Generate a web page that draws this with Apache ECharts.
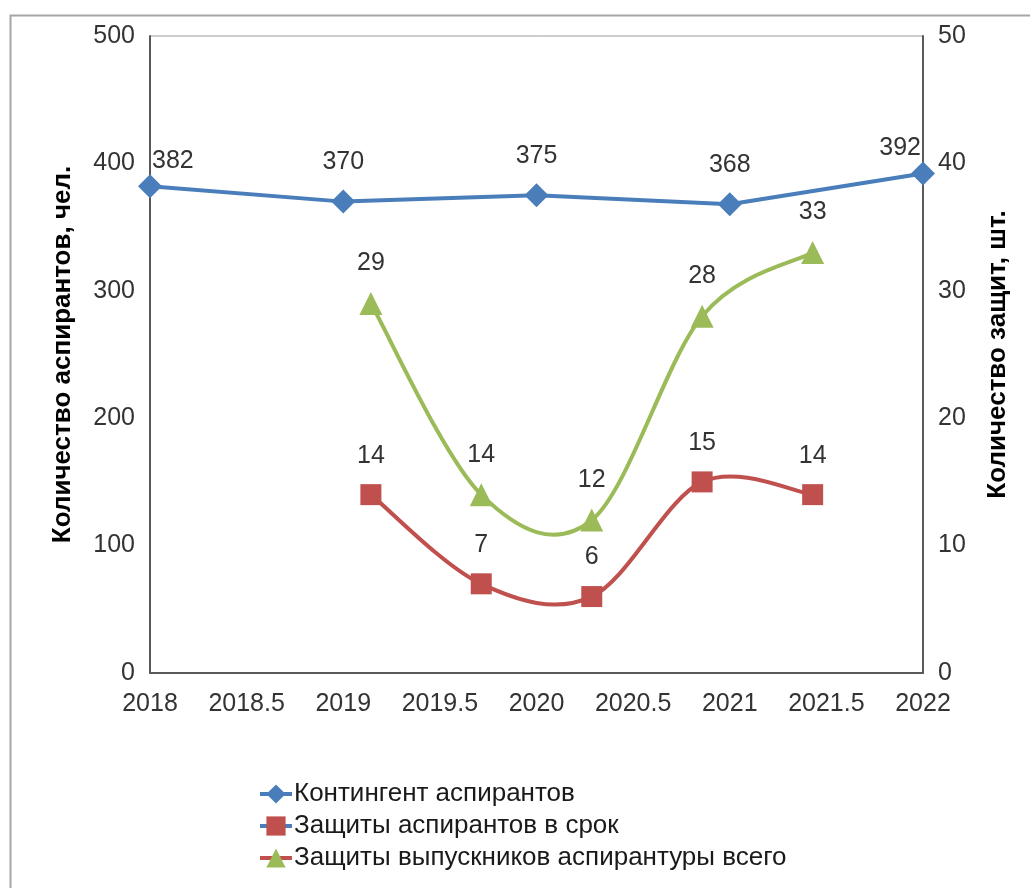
<!DOCTYPE html>
<html>
<head>
<meta charset="utf-8">
<script src="https://cdn.jsdelivr.net/npm/echarts@6/dist/echarts.min.js"></script>
<style>
html,body{margin:0;padding:0;background:#fff;}
#main{width:1030px;height:888px;}
</style>
</head>
<body>
<div id="main"></div>
<script>
// Data
var seriesNames = ['Контингент аспирантов', 'Защиты аспирантов в срок', 'Защиты выпускников аспирантуры всего'];
var contingentX = [2018, 2019, 2020, 2021, 2022];
var contingentY = [382, 370, 375, 368, 392];
var defenseX = [2019.143, 2019.714, 2020.286, 2020.857, 2021.429];
var onTimeY = [14, 7, 6, 15, 14];
var totalY = [29, 14, 12, 28, 33];
var leftTicks = { min: 0, max: 500, interval: 100 };
var rightTicks = { min: 0, max: 50, interval: 10 };
var xTicks = { min: 2018, max: 2022, interval: 0.5 };

function pairs(xs, ys) { return xs.map(function (x, i) { return [x, ys[i]]; }); }

var BLUE = '#4A7EBB', RED = '#C0504D', GREEN = '#9BBB59';
var FONT = 'Liberation Sans, Arial, sans-serif';
var GRID = { left: 150, right: 107, top: 36, bottom: 215 };
var LABEL_COLOR = '#333';

// Smooth curve (Excel-like Catmull-Rom) drawn through axis coordinates
function smoothRenderer(xs, ys, color) {
  return function (params, api) {
    var i = params.dataIndex, n = xs.length;
    if (i >= n - 1) return { type: 'group', children: [] };
    function P(k) { k = Math.max(0, Math.min(n - 1, k)); return api.coord([xs[k], ys[k]]); }
    var p0 = P(i - 1), p1 = P(i), p2 = P(i + 1), p3 = P(i + 2);
    var t = 1 / 6;
    return {
      type: 'bezierCurve',
      shape: {
        x1: p1[0], y1: p1[1], x2: p2[0], y2: p2[1],
        cpx1: p1[0] + (p2[0] - p0[0]) * t, cpy1: p1[1] + (p2[1] - p0[1]) * t,
        cpx2: p2[0] - (p3[0] - p1[0]) * t, cpy2: p2[1] - (p3[1] - p1[1]) * t
      },
      style: { fill: null, stroke: color, lineWidth: 4, lineCap: 'round' },
      silent: true
    };
  };
}

var labelBase = { show: true, position: 'top', fontSize: 25, color: LABEL_COLOR, fontFamily: FONT,
  formatter: function (p) { return p.value[1]; } };

var chart = echarts.init(document.getElementById('main'));
var option = {
  backgroundColor: '#fff',
  animation: false,
  textStyle: { fontFamily: FONT },
  graphic: [{
    type: 'rect', silent: true, z: -1,
    shape: { x: 10.5, y: 15.5, width: 1100, height: 1000 },
    style: { fill: 'none', stroke: '#a6a6a6', lineWidth: 2 }
  }],
  grid: {
    left: GRID.left, right: GRID.right, top: GRID.top, bottom: GRID.bottom,
    show: true, borderColor: '#9a9a9a', borderWidth: 1, backgroundColor: 'transparent'
  },
  legend: {
    orient: 'vertical', left: 258, top: 781, itemGap: 6, padding: 0,
    itemWidth: 32, itemHeight: 24,
    textStyle: { fontFamily: FONT, fontSize: 26, color: '#1a1a1a', padding: [0, 0, 0, -3] },
    data: [
      { name: seriesNames[0], itemStyle: { color: BLUE }, lineStyle: { color: BLUE, width: 4, opacity: 1 } },
      { name: seriesNames[1], itemStyle: { color: RED }, lineStyle: { color: BLUE, width: 4, opacity: 1 } },
      { name: seriesNames[2], itemStyle: { color: GREEN }, lineStyle: { color: RED, width: 4, opacity: 1 } }
    ]
  },
  xAxis: {
    type: 'value', min: xTicks.min, max: xTicks.max, interval: xTicks.interval,
    axisLine: { show: true, onZero: false, lineStyle: { color: '#595959', width: 2 } },
    axisTick: { show: false },
    splitLine: { show: false },
    axisLabel: { fontSize: 25, color: LABEL_COLOR, margin: 19, fontFamily: FONT,
      formatter: function (v) { return String(v); } }
  },
  yAxis: [{
    type: 'value', position: 'left', min: leftTicks.min, max: leftTicks.max, interval: leftTicks.interval,
    name: 'Количество аспирантов, чел.', nameLocation: 'middle', nameGap: 74, nameRotate: 90,
    nameTextStyle: { fontSize: 26, fontWeight: 'bold', color: '#000', fontFamily: FONT },
    axisLine: { show: true, lineStyle: { color: '#595959', width: 2 } },
    axisTick: { show: false },
    splitLine: { show: false },
    axisLabel: { fontSize: 25, color: LABEL_COLOR, margin: 15, fontFamily: FONT }
  }, {
    type: 'value', position: 'right', min: rightTicks.min, max: rightTicks.max, interval: rightTicks.interval,
    name: 'Количество защит, шт.', nameLocation: 'middle', nameGap: 62, nameRotate: 90,
    nameTextStyle: { fontSize: 26, fontWeight: 'bold', color: '#000', fontFamily: FONT },
    axisLine: { show: true, lineStyle: { color: '#595959', width: 2 } },
    axisTick: { show: false },
    splitLine: { show: false },
    axisLabel: { fontSize: 25, color: LABEL_COLOR, margin: 15, fontFamily: FONT }
  }],
  series: [{
    name: seriesNames[0], type: 'line', yAxisIndex: 0,
    data: pairs(contingentX, contingentY),
    symbol: 'diamond', symbolSize: 24,
    itemStyle: { color: BLUE }, lineStyle: { color: BLUE, width: 4 },
    label: Object.assign({}, labelBase, { distance: 15 }),
    labelLayout: function (p) {
      var r = p.labelRect;
      var leftEdge = GRID.left, rightEdge = 1030 - GRID.right;
      if (r.x < leftEdge) return { dx: leftEdge + 2 - r.x, dy: 14 };
      if (r.x + r.width > rightEdge) return { dx: rightEdge - 2 - (r.x + r.width), dy: 14 };
      return {};
    },
    clip: false, z: 3
  }, {
    name: 'curve-ontime', type: 'custom', yAxisIndex: 1,
    data: pairs(defenseX, onTimeY),
    renderItem: smoothRenderer(defenseX, onTimeY, RED), z: 1, silent: true
  }, {
    name: 'curve-total', type: 'custom', yAxisIndex: 1,
    data: pairs(defenseX, totalY),
    renderItem: smoothRenderer(defenseX, totalY, GREEN), z: 1, silent: true
  }, {
    name: seriesNames[1], type: 'line', yAxisIndex: 1,
    data: pairs(defenseX, onTimeY),
    symbol: 'rect', symbolSize: 21,
    itemStyle: { color: RED }, lineStyle: { color: RED, width: 0, opacity: 0 },
    label: Object.assign({}, labelBase, { distance: 16 }),
    z: 2
  }, {
    name: seriesNames[2], type: 'line', yAxisIndex: 1,
    data: pairs(defenseX, totalY),
    symbol: 'triangle', symbolSize: 23,
    itemStyle: { color: GREEN }, lineStyle: { color: GREEN, width: 0, opacity: 0 },
    label: Object.assign({}, labelBase, { distance: 16 }),
    z: 2
  }]
};
chart.setOption(option);
</script>
</body>
</html>
